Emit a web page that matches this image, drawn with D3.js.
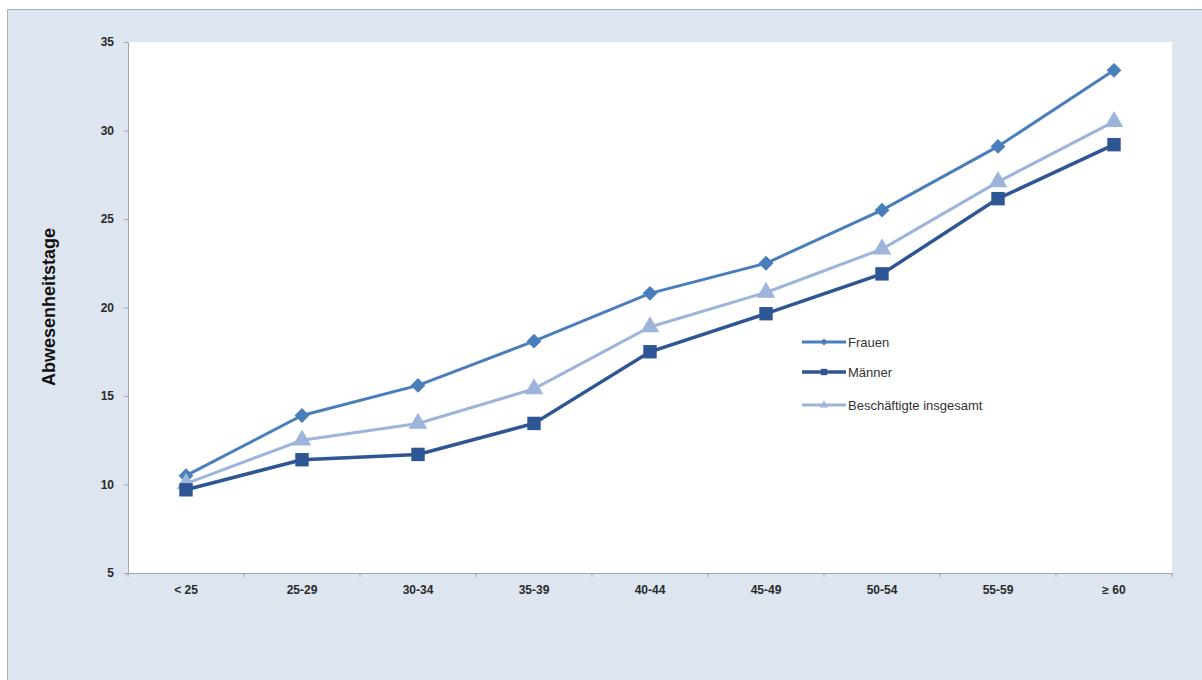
<!DOCTYPE html>
<html><head><meta charset="utf-8">
<script src="https://cdn.jsdelivr.net/npm/d3@7"></script>
<style>body{margin:0;background:#fff;}svg{display:block;}</style>
</head><body><svg id="c" width="1202" height="680"></svg>
<script>
const categories = ["< 25","25-29","30-34","35-39","40-44","45-49","50-54","55-59","≥ 60"];
const frauen = [10.5,13.9,15.6,18.1,20.8,22.5,25.5,29.1,33.4];
const maenner = [9.7,11.4,11.7,13.45,17.5,19.65,21.9,26.15,29.2];
const gesamt = [10.05,12.5,13.45,15.4,18.9,20.85,23.3,27.1,30.5];
const yTicks = [5,10,15,20,25,30,35];
const seriesNames = ["Frauen","Männer","Beschäftigte insgesamt"];

const svg = d3.select("#c");
svg.append("rect").attr("x",0).attr("y",0).attr("width",1202).attr("height",680).attr("fill","#fff");
svg.append("rect").attr("x",7.5).attr("y",9.5).attr("width",1200).attr("height",680).attr("fill","#dde5f0").attr("stroke","#a9b0b8").attr("stroke-width",1);

const L=128,R=1172,T=42,B=573;
svg.append("rect").attr("x",L).attr("y",T).attr("width",R-L).attr("height",B-T).attr("fill","#fff");

const x = d3.scaleBand().domain(categories).range([L,R]);
const y = d3.scaleLinear().domain([5,35]).range([B,T]);

const fontF = "Arial, 'Liberation Sans', sans-serif";
const yAxis = svg.append("g").attr("transform",`translate(${L},0)`)
  .call(d3.axisLeft(y).tickValues(yTicks).tickSize(4).tickPadding(10).tickFormat(d3.format("d")));
const xAxis = svg.append("g").attr("transform",`translate(0,${B})`)
  .call(d3.axisBottom(x).tickSize(0).tickPadding(12));
[yAxis,xAxis].forEach(g=>{
  g.select(".domain").attr("stroke","#a6a6a6");
  g.selectAll(".tick line").attr("stroke","#a6a6a6");
  g.selectAll("text").attr("font-family",fontF).attr("font-size",12).attr("font-weight","bold").attr("fill","#2a2a2a");
});
const bounds = categories.map(c=>x(c)).concat([R]);
svg.append("g").selectAll("line").data(bounds).join("line")
  .attr("x1",d=>d).attr("x2",d=>d).attr("y1",B).attr("y2",B+4).attr("stroke","#a6a6a6");

svg.append("text").attr("transform","translate(55,307) rotate(-90)")
  .attr("text-anchor","middle").attr("font-family",fontF).attr("font-size",18).attr("font-weight","bold")
  .attr("fill","#111").text("Abwesenheitstage");

const cx = c=>x(c)+x.bandwidth()/2;
const series = [
  {name:seriesNames[0],vals:frauen,color:"#4a7ebb",shape:d3.symbolSquare,size:110,rot:45,w:3},
  {name:seriesNames[2],vals:gesamt,color:"#9db5da",shape:d3.symbolTriangle,size:150,rot:0,w:3},
  {name:seriesNames[1],vals:maenner,color:"#2f5694",shape:d3.symbolSquare,size:180,rot:0,w:3.5},
];
const line = d3.line().x((d,i)=>cx(categories[i])).y(d=>y(d));
series.forEach(s=>{
  svg.append("path").datum(s.vals).attr("d",line).attr("fill","none").attr("stroke",s.color).attr("stroke-width",s.w);
  svg.append("g").selectAll("path").data(s.vals).join("path")
    .attr("transform",(d,i)=>`translate(${cx(categories[i])},${y(d)}) rotate(${s.rot})`)
    .attr("d",d3.symbol().type(s.shape).size(s.size)).attr("fill",s.color);
});

const leg = [
  {name:seriesNames[0],color:"#4a7ebb",shape:d3.symbolSquare,rot:45,size:25,w:3,y:342},
  {name:seriesNames[1],color:"#2f5694",shape:d3.symbolSquare,rot:0,size:40,w:3.5,y:372},
  {name:seriesNames[2],color:"#9db5da",shape:d3.symbolTriangle,rot:0,size:30,w:3,y:405},
];
const lg = svg.append("g");
leg.forEach(l=>{
  lg.append("line").attr("x1",802).attr("x2",846).attr("y1",l.y).attr("y2",l.y).attr("stroke",l.color).attr("stroke-width",l.w);
  lg.append("path").attr("transform",`translate(824,${l.y}) rotate(${l.rot})`).attr("d",d3.symbol().type(l.shape).size(l.size)).attr("fill",l.color);
  lg.append("text").attr("x",848).attr("y",l.y+4.5).attr("font-family",fontF).attr("font-size",13).attr("fill","#333").text(l.name);
});
</script></body></html>
